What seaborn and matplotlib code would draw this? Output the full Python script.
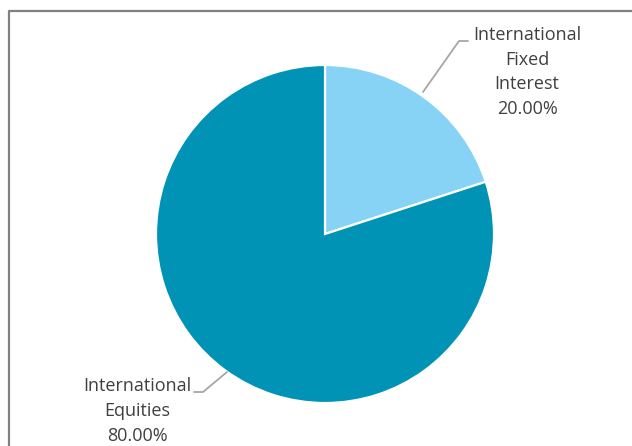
import matplotlib
matplotlib.use("Agg")
import matplotlib.pyplot as plt
import seaborn as sns

# Asset allocation
names = ["International\nFixed\nInterest", "International\nEquities"]
shares = [20.0, 80.0]
colours = ["#87D3F6", "#0093B5"]

sns.set_theme(style="white")
plt.rcParams['font.family'] = ['Open Sans', 'DejaVu Sans']

fig = plt.figure(figsize=(6.32, 4.46), dpi=100)
ax = fig.add_axes([0, 0, 1, 1])

# pixel-like coordinates, y pointing down
cx, cy, r = 325, 234, 169
ax.pie(shares, colors=colours, startangle=-90, counterclock=True,
       center=(cx, cy), radius=r,
       wedgeprops=dict(edgecolor="white", linewidth=1.6))
ax.set_xlim(0, 632)
ax.set_ylim(446, 0)
ax.set_aspect("equal")
ax.axis("off")

# labels with leader lines
label_pos = [(527, 72), (137, 411)]
leaders = [[(423, 92), (459, 41), (468, 41)],
           [(227, 372), (203, 392), (194, 392)]]
for name, share, (tx, ty), pts in zip(names, shares, label_pos, leaders):
    ax.text(tx, ty, f"{name}\n{share:.2f}%", ha="center", va="center",
            fontsize=13, color="#404040", linespacing=1.47)
    ax.plot([p[0] for p in pts], [p[1] for p in pts], color="#A6A6A6", lw=1.3)

# chart frame (only left and top visible in the crop)
ax.plot([9, 9, 632], [446, 11, 11], color="#808080", lw=1.6, clip_on=False)

fig.savefig("out.png", dpi=100)
